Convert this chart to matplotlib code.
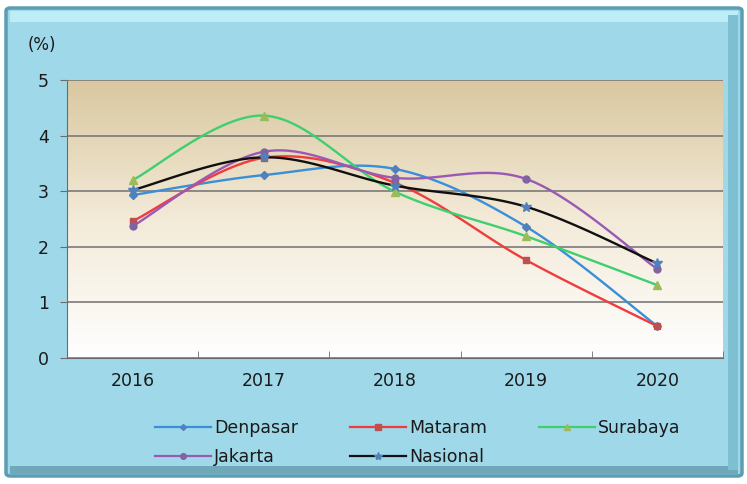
import matplotlib.pyplot as plt
import numpy as np
from matplotlib.colors import LinearSegmentedColormap
from matplotlib.patches import FancyBboxPatch, Rectangle

years = ["2016", "2017", "2018", "2019", "2020"]
denpasar = [2.93, 3.29, 3.40, 2.36, 0.57]
mataram = [2.46, 3.60, 3.15, 1.76, 0.57]
surabaya = [3.20, 4.36, 2.99, 2.19, 1.31]
jakarta = [2.37, 3.71, 3.24, 3.22, 1.60]
nasional = [3.02, 3.61, 3.10, 2.72, 1.70]


def smooth(xs, ys, n=30, t=0.5):
    # Catmull-Rom style curve through the points, like Excel's "smoothed line"
    xs = np.asarray(xs, float)
    ys = np.asarray(ys, float)
    px = np.concatenate([[xs[0]], xs, [xs[-1]]])
    py = np.concatenate([[ys[0]], ys, [ys[-1]]])
    outx, outy = [], []
    for i in range(1, len(px) - 2):
        p0 = np.array([px[i - 1], py[i - 1]])
        p1 = np.array([px[i], py[i]])
        p2 = np.array([px[i + 1], py[i + 1]])
        p3 = np.array([px[i + 2], py[i + 2]])
        c1 = p1 + (p2 - p0) * t / 3
        c2 = p2 - (p3 - p1) * t / 3
        s = np.linspace(0, 1, n)[:, None]
        b = (1 - s) ** 3 * p1 + 3 * (1 - s) ** 2 * s * c1 + 3 * (1 - s) * s**2 * c2 + s**3 * p2
        outx.extend(b[:, 0])
        outy.extend(b[:, 1])
    return np.array(outx), np.array(outy)


fig = plt.figure(figsize=(7.47, 4.84), dpi=100)
fig.patch.set_facecolor("white")

# bevelled light-blue frame
frame = FancyBboxPatch((6 / 747, 8 / 484), 736 / 747, 468 / 484,
                       boxstyle="round,pad=0,rounding_size=0.006",
                       transform=fig.transFigure, facecolor="#9fd8e8",
                       edgecolor="#5b9db3", linewidth=2.5, zorder=-10)
fig.add_artist(frame)
fig.add_artist(Rectangle((10 / 747, 462 / 484), 728 / 747, 11 / 484,
                         transform=fig.transFigure, facecolor="#bdeef7",
                         edgecolor="none", zorder=-9))
fig.add_artist(Rectangle((10 / 747, 10 / 484), 728 / 747, 8 / 484,
                         transform=fig.transFigure, facecolor="#6fa8b8",
                         edgecolor="none", zorder=-9))
fig.add_artist(Rectangle((728 / 747, 14 / 484), 10 / 747, 455 / 484,
                         transform=fig.transFigure, facecolor="#7fbfd2",
                         edgecolor="none", zorder=-9))

ax = fig.add_axes([67 / 747, 126 / 484, 656 / 747, 278 / 484])

# gradient background of the plot area
grad = np.linspace(0, 1, 256)[:, None]
ax.imshow(grad, aspect="auto", extent=[0.5, 5.5, 0, 5], origin="lower",
          cmap=LinearSegmentedColormap.from_list(
              "bg", ["#ffffff", "#f3ead8", "#d9c8a0"]), zorder=0)

x = np.arange(1, len(years) + 1)
series = [
    ("Denpasar", denpasar, "#3a8fd8", "D", "#4f81bd", 4),
    ("Mataram", mataram, "#f03c3c", "s", "#c0504d", 5),
    ("Surabaya", surabaya, "#3fcf6f", "^", "#9bbb59", 6),
    ("Jakarta", jakarta, "#9b59b6", "o", "#8064a2", 5),
    ("Nasional", nasional, "#101010", "*", "#4f81bd", 7),
]
handles = {}
for name, vals, color, marker, mcolor, ms in series:
    sx, sy = smooth(x, vals)
    ax.plot(sx, sy, color=color, lw=1.7, zorder=3)
    ax.plot(x, vals, ls="none", marker=marker, color=mcolor, ms=ms, zorder=4)
    (h,) = ax.plot([], [], color=color, lw=1.6, marker=marker, mfc=mcolor,
                   mec=mcolor, ms=ms - 1)
    handles[name] = h

ax.set_xlim(0.5, 5.5)
ax.set_ylim(0, 5)
ax.set_yticks(range(0, 6))
ax.set_xticks(x)
ax.set_xticklabels(years)
ax.set_xticks(np.arange(0.5, 6, 1), minor=True)
ax.tick_params(axis="x", which="major", length=0, pad=10, labelsize=12.5,
               labelcolor="#1a1a1a")
ax.tick_params(axis="x", which="minor", length=5, color="#6b6b6b",
               direction="in")
ax.tick_params(axis="y", length=5, color="#6b6b6b", labelsize=12.5, pad=8,
               labelcolor="#1a1a1a")
ax.grid(axis="y", color="#7a7a7a", lw=1.2, zorder=1)
for s in ["top", "right"]:
    ax.spines[s].set_visible(False)
for s in ["left", "bottom"]:
    ax.spines[s].set_color("#6b6b6b")

fig.text(28 / 747, 1 - 45 / 484, "(%)", fontsize=12, color="#1a1a1a",
         va="center")

# row-major legend order as in the reference
order = ["Denpasar", "Jakarta", "Mataram", "Nasional", "Surabaya"]
leg = ax.legend([handles[k] for k in order], order, loc="upper center",
                bbox_to_anchor=(0.535, -0.165), ncol=3, frameon=False,
                fontsize=12.5, handlelength=3.2, handletextpad=0.2,
                columnspacing=3.0, labelspacing=0.6)
for t in leg.get_texts():
    t.set_color("#1a1a1a")

fig.savefig("out.png", dpi=100, facecolor=fig.get_facecolor())
